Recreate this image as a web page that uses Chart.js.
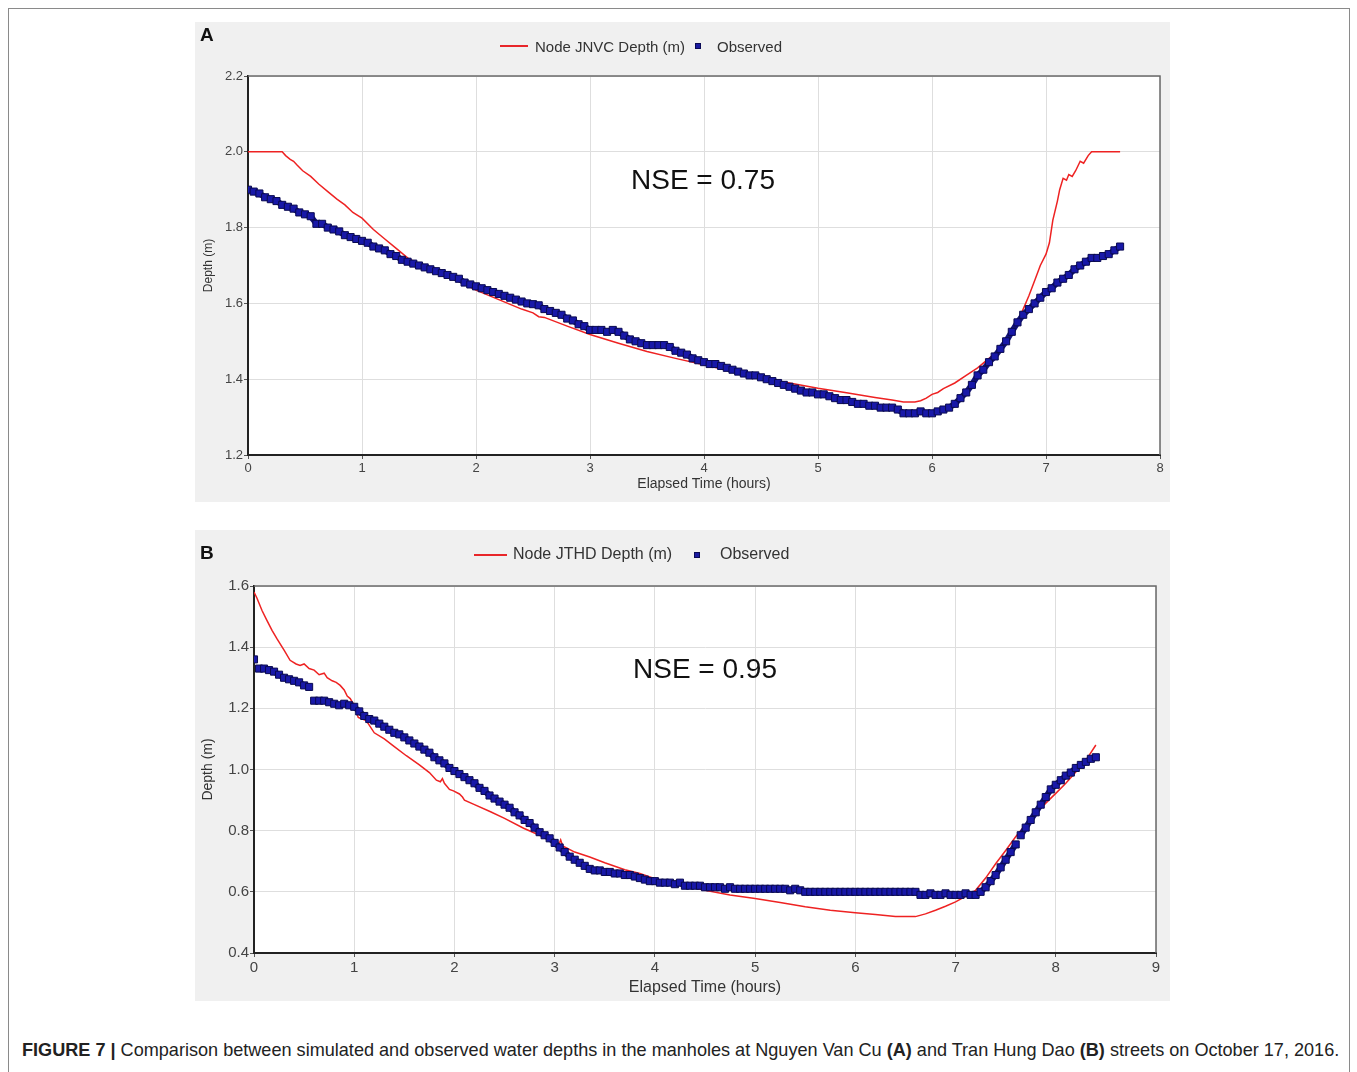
<!DOCTYPE html>
<html>
<head>
<meta charset="utf-8">
<script src="https://cdn.jsdelivr.net/npm/chart.js@4.4.1/dist/chart.umd.min.js"></script>
<style>
body{margin:0;width:1357px;height:1072px;background:#fff;font-family:"Liberation Sans",Arial,sans-serif;position:relative;overflow:hidden}
#frame{position:absolute;left:8px;top:8px;width:1340px;height:1090px;border:1px solid #8a8a8a}
.panel{position:absolute;left:195px;width:975px;background:#f0f0f0}
#panelA{top:22px;height:480px}
#panelB{top:530px;height:471px}
.panel canvas{position:absolute;left:0;top:0}
.letter{position:absolute;left:5px;font-weight:bold;font-size:19px;color:#111}
.abs{position:absolute;white-space:nowrap;color:#333}
.redline{position:absolute;height:2px;background:#e8262a}
.sq{position:absolute;background:#1a1aa0;border:1px solid #0a0a55}
.nse{position:absolute;font-size:28px;color:#111;white-space:nowrap}
#caption{position:absolute;left:22px;top:1040px;font-size:18.1px;color:#222;white-space:nowrap}
</style>
</head>
<body>
<div id="frame"></div>

<div class="panel" id="panelA">
  <canvas id="chartA" width="975" height="480"></canvas>
  <div class="letter" style="top:2px">A</div>
  <div class="redline" style="left:305px;top:23px;width:28px"></div>
  <div class="abs" style="left:340px;top:16px;font-size:15px">Node JNVC Depth (m)</div>
  <div class="sq" style="left:500px;top:21px;width:4px;height:4px"></div>
  <div class="abs" style="left:522px;top:16px;font-size:15px">Observed</div>
  <div class="nse" style="left:436px;top:142px">NSE = 0.75</div>
</div>

<div class="panel" id="panelB">
  <canvas id="chartB" width="975" height="471"></canvas>
  <div class="letter" style="top:12px">B</div>
  <div class="redline" style="left:279px;top:24px;width:33px"></div>
  <div class="abs" style="left:318px;top:15px;font-size:16px">Node JTHD Depth (m)</div>
  <div class="sq" style="left:499px;top:22px;width:4px;height:4px"></div>
  <div class="abs" style="left:525px;top:15px;font-size:16px">Observed</div>
  <div class="nse" style="left:438px;top:123px">NSE = 0.95</div>
</div>

<div id="caption"><b>FIGURE 7 |</b> Comparison between simulated and observed water depths in the manholes at Nguyen Van Cu <b>(A)</b> and Tran Hung Dao <b>(B)</b> streets on October 17, 2016.</div>

<script>
// observed logger readings, one every 3 minutes (0.05 h)
const obsIntervalH = 0.05;

const obsDepthA = [
1.900,1.895,1.890,1.880,1.875,1.870,1.860,1.855,1.850,1.840,
1.835,1.830,1.810,1.810,1.800,1.795,1.790,1.780,1.775,1.770,
1.765,1.760,1.750,1.745,1.740,1.730,1.725,1.715,1.710,1.705,
1.700,1.695,1.690,1.685,1.680,1.675,1.670,1.665,1.655,1.650,
1.645,1.640,1.635,1.630,1.625,1.620,1.615,1.610,1.605,1.600,
1.598,1.595,1.585,1.580,1.575,1.570,1.560,1.555,1.545,1.540,
1.530,1.530,1.530,1.525,1.530,1.525,1.515,1.505,1.500,1.495,
1.490,1.490,1.490,1.490,1.485,1.475,1.470,1.465,1.455,1.450,
1.445,1.440,1.440,1.435,1.430,1.425,1.420,1.415,1.410,1.410,
1.405,1.400,1.395,1.390,1.385,1.380,1.375,1.370,1.365,1.365,
1.360,1.360,1.355,1.350,1.345,1.345,1.340,1.335,1.335,1.330,
1.330,1.325,1.325,1.325,1.320,1.310,1.310,1.310,1.315,1.310,
1.310,1.315,1.320,1.325,1.335,1.350,1.365,1.385,1.410,1.425,
1.445,1.460,1.480,1.500,1.525,1.550,1.570,1.585,1.600,1.615,
1.630,1.640,1.655,1.665,1.675,1.690,1.700,1.710,1.720,1.720,
1.725,1.730,1.740,1.750
];

const simTimeA = [0,0.30,0.33,0.37,0.40,0.43,0.48,0.55,0.62,0.70,0.78,0.85,0.92,1.00,1.10,1.20,1.30,1.40,1.50,1.60,1.70,1.80,1.90,2.00,2.20,2.40,2.50,2.55,2.60,2.80,3.00,3.25,3.50,3.75,4.00,4.25,4.50,4.75,5.00,5.25,5.50,5.65,5.75,5.85,5.90,5.95,6.00,6.05,6.10,6.20,6.30,6.40,6.50,6.60,6.70,6.75,6.80,6.85,6.90,6.95,7.00,7.03,7.06,7.10,7.12,7.15,7.18,7.20,7.23,7.26,7.30,7.33,7.37,7.40,7.65];
const simDepthA = [2.0,2.0,1.99,1.98,1.975,1.965,1.95,1.935,1.915,1.895,1.875,1.86,1.84,1.825,1.795,1.77,1.745,1.72,1.703,1.69,1.678,1.665,1.65,1.635,1.61,1.585,1.575,1.565,1.563,1.54,1.518,1.495,1.473,1.455,1.438,1.42,1.403,1.39,1.376,1.364,1.352,1.345,1.34,1.34,1.343,1.35,1.36,1.365,1.375,1.39,1.41,1.43,1.455,1.48,1.52,1.55,1.585,1.62,1.66,1.70,1.73,1.76,1.82,1.87,1.90,1.93,1.925,1.94,1.935,1.95,1.975,1.97,1.99,2.0,2.0];

const obsDepthB = [
1.360,1.330,1.330,1.325,1.320,1.310,1.300,1.295,1.290,1.285,
1.275,1.270,1.225,1.225,1.225,1.220,1.215,1.210,1.215,1.210,
1.205,1.190,1.175,1.165,1.160,1.150,1.140,1.130,1.120,1.115,
1.105,1.095,1.085,1.075,1.065,1.055,1.040,1.030,1.020,1.005,
0.995,0.985,0.975,0.965,0.955,0.940,0.930,0.915,0.905,0.895,
0.885,0.875,0.860,0.850,0.835,0.825,0.810,0.795,0.785,0.775,
0.760,0.745,0.730,0.715,0.705,0.695,0.685,0.675,0.670,0.670,
0.665,0.665,0.660,0.660,0.655,0.655,0.650,0.645,0.640,0.635,
0.635,0.630,0.630,0.630,0.625,0.630,0.620,0.620,0.620,0.620,
0.615,0.615,0.615,0.615,0.610,0.615,0.610,0.610,0.610,0.610,
0.610,0.610,0.610,0.610,0.610,0.610,0.610,0.605,0.610,0.605,
0.600,0.600,0.600,0.600,0.600,0.600,0.600,0.600,0.600,0.600,
0.600,0.600,0.600,0.600,0.600,0.600,0.600,0.600,0.600,0.600,
0.600,0.600,0.600,0.590,0.590,0.595,0.590,0.590,0.595,0.590,
0.590,0.590,0.595,0.590,0.590,0.600,0.615,0.635,0.655,0.680,
0.705,0.730,0.755,0.785,0.810,0.835,0.860,0.885,0.910,0.935,
0.950,0.965,0.980,0.990,1.005,1.015,1.025,1.035,1.040
];

const simTimeB = [0,0.03,0.08,0.13,0.18,0.23,0.30,0.36,0.42,0.46,0.50,0.55,0.60,0.65,0.70,0.73,0.78,0.82,0.86,0.90,0.93,0.96,1.00,1.04,1.08,1.12,1.20,1.30,1.40,1.52,1.65,1.75,1.82,1.86,1.88,1.90,1.95,1.99,2.05,2.08,2.10,2.20,2.36,2.50,2.69,2.85,3.00,3.03,3.06,3.08,3.20,3.35,3.50,3.70,3.85,4.00,4.25,4.50,4.75,5.00,5.25,5.50,5.75,6.00,6.20,6.40,6.60,6.70,6.80,6.90,7.00,7.10,7.20,7.30,7.40,7.50,7.60,7.70,7.80,7.90,8.00,8.10,8.20,8.30,8.40];
const simDepthB = [1.58,1.56,1.52,1.487,1.455,1.427,1.39,1.357,1.345,1.34,1.345,1.33,1.325,1.31,1.315,1.30,1.29,1.285,1.275,1.26,1.24,1.232,1.21,1.17,1.165,1.16,1.12,1.10,1.075,1.045,1.015,0.99,0.965,0.96,0.97,0.955,0.935,0.93,0.92,0.91,0.90,0.885,0.862,0.84,0.808,0.785,0.76,0.745,0.77,0.75,0.73,0.714,0.695,0.672,0.66,0.643,0.623,0.605,0.59,0.578,0.565,0.551,0.54,0.532,0.526,0.519,0.519,0.528,0.54,0.553,0.567,0.585,0.605,0.645,0.692,0.735,0.78,0.82,0.857,0.89,0.922,0.955,0.992,1.03,1.08];

const ticksYA = [1.2,1.4,1.6,1.8,2.0,2.2];
const ticksYB = [0.4,0.6,0.8,1.0,1.2,1.4,1.6];

function obsPoints(vals){
return vals.map((v,i)=>({x:+(i*obsIntervalH).toFixed(2),y:v}));
}
function simPoints(ts,vals){
return ts.map((t,i)=>({x:t,y:vals[i]}));
}

const plotFrame = {
id:"plotFrame",
beforeDraw(chart){
const {ctx,chartArea:a} = chart;
ctx.save();
ctx.fillStyle="#fff";
ctx.fillRect(a.left,a.top,a.right-a.left,a.bottom-a.top);
ctx.restore();
},
afterDraw(chart){
const {ctx,chartArea:a} = chart;
ctx.save();
ctx.strokeStyle="#6a6a6a";
ctx.lineWidth=1.5;
ctx.beginPath();
ctx.moveTo(a.left,a.top);
ctx.lineTo(a.right,a.top);
ctx.lineTo(a.right,a.bottom);
ctx.stroke();
ctx.restore();
}
};

function makeChart(id,opt){
const ctx=document.getElementById(id).getContext("2d");
return new Chart(ctx,{
type:"scatter",
data:{
datasets:[
{
label:"Observed",
data:opt.obs,
// readings are so dense they merge into a band
showLine:true,
segment:{borderColor:c=>Math.abs(c.p1.parsed.y-c.p0.parsed.y)>0.03?"transparent":"#12127a"},
borderColor:"#12127a",
borderWidth:6,
pointStyle:"rect",
pointRadius:opt.pr,
backgroundColor:"#1818a8",
pointBorderColor:"#0a0a50",
pointBorderWidth:1,
order:0
},
{
label:opt.simLabel,
data:opt.sim,
showLine:true,
borderColor:"#ee2222",
borderWidth:1.5,
pointRadius:0,
tension:0,
order:1
}
]
},
options:{
responsive:false,
animation:false,
layout:{padding:{top:opt.top,right:opt.right,left:0,bottom:0}},
plugins:{legend:{display:false},tooltip:{enabled:false}},
scales:{
x:{
type:"linear",
min:0,max:opt.xmax,
afterBuildTicks(s){ s.ticks = opt.xticks.map(v=>({value:v})); },
afterFit(s){ s.height = opt.xh; },
grid:{color:"#dedede",tickLength:4,tickColor:"#555"},
border:{color:"#222",width:2},
ticks:{color:"#444",font:{size:opt.fs,family:"Liberation Sans"},padding:2,callback:v=>String(v)},
title:{display:true,text:"Elapsed Time (hours)",color:"#333",font:{size:opt.ts,family:"Liberation Sans"},padding:{top:0,bottom:opt.tpad}}
},
y:{
min:opt.ymin,max:opt.ymax,
afterBuildTicks(s){ s.ticks = opt.yticks.map(v=>({value:v})); },
afterFit(s){ s.width = opt.yw; },
grid:{color:"#dedede",tickLength:4,tickColor:"#555"},
border:{color:"#222",width:2},
ticks:{color:"#444",font:{size:opt.fs,family:"Liberation Sans"},padding:1,callback:v=>v.toFixed(1)},
title:{display:true,text:"Depth (m)",color:"#333",font:{size:opt.ys,family:"Liberation Sans"},padding:{top:opt.ypad,bottom:0}}
}
}
},
plugins:[plotFrame]
});
}

makeChart("chartA",{
obs:obsPoints(obsDepthA),
sim:simPoints(simTimeA,simDepthA),
simLabel:"Node JNVC Depth (m)",
pr:5,
top:54,right:10,xh:47,yw:53,
xmax:8,xticks:[0,1,2,3,4,5,6,7,8],
ymin:1.2,ymax:2.2,yticks:ticksYA,
fs:13,ts:14,tpad:9,ys:12,ypad:6
});

makeChart("chartB",{
obs:obsPoints(obsDepthB),
sim:simPoints(simTimeB,simDepthB),
simLabel:"Node JTHD Depth (m)",
pr:5,
top:56,right:14,xh:48,yw:59,
xmax:9,xticks:[0,1,2,3,4,5,6,7,8,9],
ymin:0.4,ymax:1.6,yticks:ticksYB,
fs:15,ts:16,tpad:4,ys:14,ypad:5
});
</script>
</body>
</html>
